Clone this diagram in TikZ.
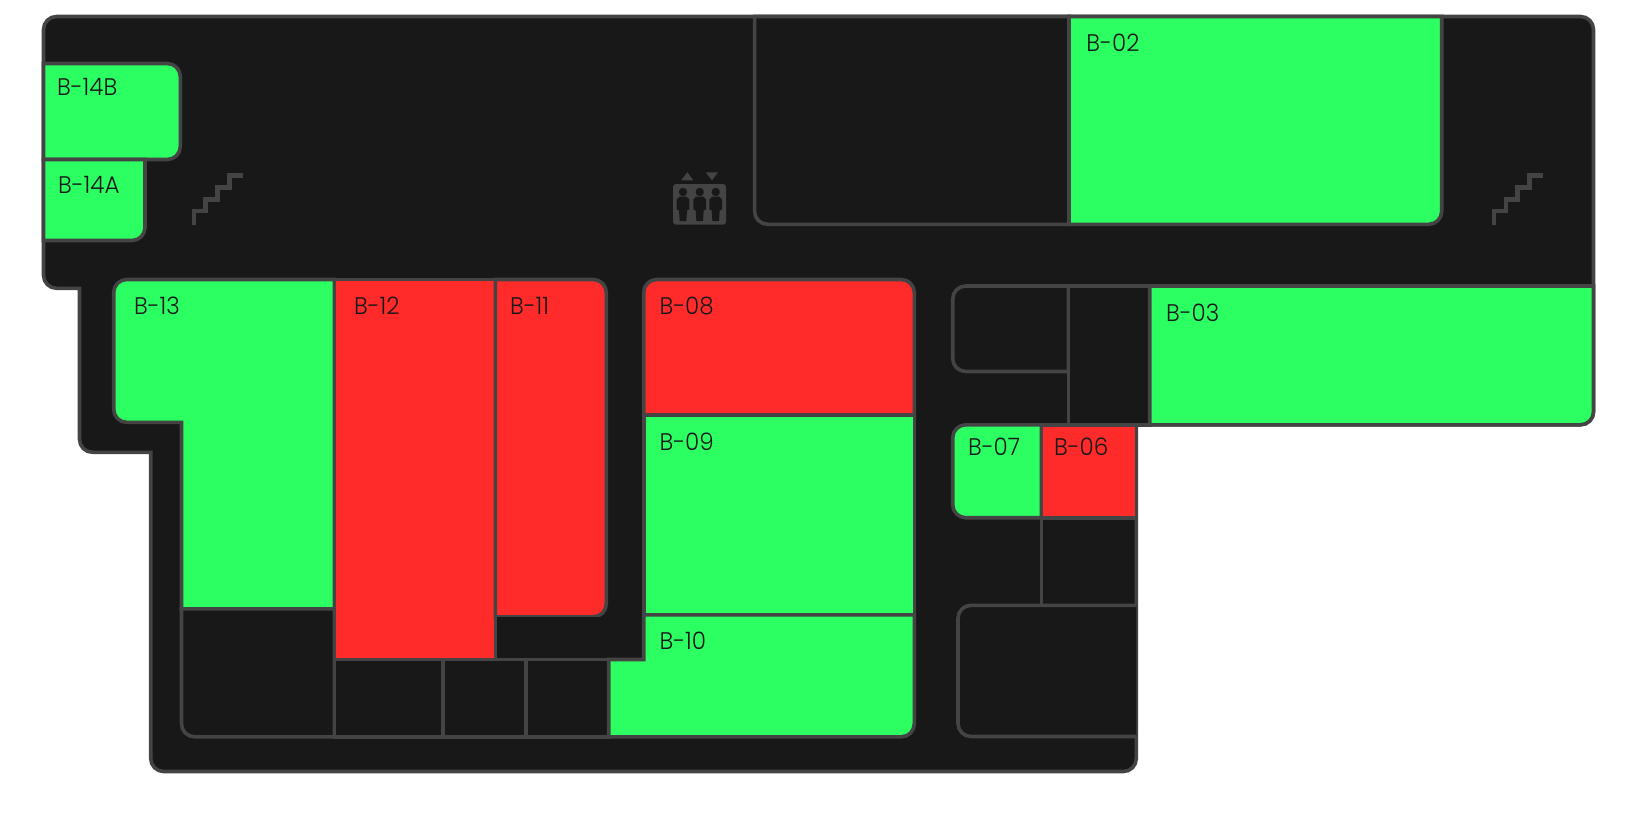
\documentclass[tikz,border=0pt]{standalone}
\usepackage{fontspec}
\newfontfamily\roomfont[FakeStretch=0.96]{Poppins Light}
\definecolor{floorc}{HTML}{181818}
\definecolor{linec}{HTML}{444444}
\definecolor{okc}{HTML}{2BFF62}
\definecolor{badc}{HTML}{FF2B2B}
\tikzset{
  wall/.style={draw=linec,line width=3.6pt,line join=miter},
  floorp/.style={wall,fill=floorc},
  free/.style={wall,fill=okc},
  taken/.style={wall,fill=badc},
  plain/.style={wall,fill=floorc},
  rr/.style={rounded corners=13pt},
  sc/.style={sharp corners},
  stairs/.style={draw=linec,line width=4.5pt,line join=miter},
  lbl/.style={anchor=base west,inner sep=0pt,outer sep=0pt,text=floorc,font=\roomfont\fontsize{24}{24}\selectfont},
}
\begin{document}
\begin{tikzpicture}[x=1pt,y=-1pt]
\useasboundingbox (0,0) rectangle (1641,820);
% floor outline
\path[floorp] (1136.3,424.8) [rr] -- (1136.3,771.5) -- (150.7,771.5) [sc] -- (150.7,452.3) [rr] -- (79.5,452.3) [sc] -- (79.5,288.3) [rr] -- (43.5,288.3) -- (43.5,16.5) -- (1593.5,16.5) -- (1593.5,424.8) [sc] -- cycle;
% rooms top left
\path[free] (43.5,63.5) [rr] -- (180.3,63.5) -- (180.3,159.5) [sc] -- (43.5,159.5) -- cycle;
\path[free] (43.5,159.5) -- (145,159.5) [rr] -- (145,240.5) [sc] -- (43.5,240.5) -- cycle;
% top rooms
\path[plain] (754.6,16.5) [rr] -- (754.6,224.3) [sc] -- (1069,224.3) -- (1069,16.5) -- cycle;
\path[free] (1069,16.5) -- (1441.7,16.5) [rr] -- (1441.7,224.3) [sc] -- (1069,224.3) -- cycle;
% left block
\path[free] (334.3,279.5) [rr] -- (113.7,279.5) -- (113.7,422.3) [sc] -- (181.5,422.3) -- (181.5,608.8) -- (334.3,608.8) -- cycle;
\path[plain] (181.5,608.8) [rr] -- (181.5,736.8) [sc] -- (334.3,736.8) -- (334.3,608.8) -- cycle;
\path[taken] (334.3,279.5) rectangle (495.3,659.5);
\path[taken] (495.3,279.5) [rr] -- (606.3,279.5) -- (606.3,616.8) [sc] -- (495.3,616.8) -- cycle;
\path[plain] (495.3,616.8) -- (495.3,659.5) -- (643.7,659.5) -- (643.7,616.8);
\path[plain] (334.3,659.5) rectangle (442.7,736.8);
\path[plain] (442.7,659.5) rectangle (525.7,736.8);
\path[plain] (525.7,659.5) rectangle (608.7,736.8);
% centre block
\path[taken] (643.7,414.8) [rr] -- (643.7,279.5) -- (914.3,279.5) [sc] -- (914.3,414.8) -- cycle;
\path[free] (643.7,414.8) rectangle (914.3,614.8);
\path[free] (608.7,659.5) -- (643.7,659.5) -- (643.7,614.8) -- (914.3,614.8) [rr] -- (914.3,736.8) [sc] -- (608.7,736.8) -- cycle;
% right block
\path[plain] (1068.3,286) [rr] -- (952.7,286) -- (952.7,371.5) [sc] -- (1068.3,371.5) -- cycle;
\path[plain] (1068.3,286) rectangle (1149.7,424.8);
\path[free] (1149.7,286) -- (1593.5,286) [rr] -- (1593.5,424.8) [sc] -- (1149.7,424.8) -- cycle;
\path[free] (1041.3,424.8) [rr] -- (952.7,424.8) -- (952.7,517.7) [sc] -- (1041.3,517.7) -- cycle;
\path[taken] (1041.3,424.8) rectangle (1136.3,517.7);
\path[wall] (1041.3,517.7) -- (1041.3,605.3);
\path[plain] (1136.3,605.3) [rr] -- (958,605.3) -- (958,736.5) [sc] -- (1136.3,736.5);
% stairs
\path[stairs] (194,225) -- (194,211) -- (205.7,211) -- (205.7,199.5) -- (217.3,199.5) -- (217.3,187.7) -- (229.3,187.7) -- (229.3,175.7) -- (242.7,175.7);
\path[stairs] (1494,225) -- (1494,211) -- (1506,211) -- (1506,199.5) -- (1517.7,199.5) -- (1517.7,187.7) -- (1529.3,187.7) -- (1529.3,175.7) -- (1543,175.7);
% elevator
\fill[linec,rounded corners=3pt] (673,184) rectangle (726,224.7);
\fill[linec] (681.3,180.3) -- (687.3,172.3) -- (693.3,180.3) -- cycle;
\fill[linec] (705.7,172.3) -- (718,172.3) -- (712,180.3) -- cycle;
\foreach \px in {683,699.7,715.7}{
  \fill[floorc] (\px,192) circle[radius=4.2];
  \fill[floorc] (\px-3.5,196.5) -- (\px+3.5,196.5) -- (\px+6.3,199.5) -- (\px+6.3,209.5) -- (\px+4,210.5) -- (\px+3.3,221) -- (\px-3.3,221) -- (\px-4,210.5) -- (\px-6.3,209.5) -- (\px-6.3,199.5) -- cycle;
}
% labels
\node[lbl] (b14b) at (57,95) {B-14B};
\node[lbl] (b14a) at (58,193.5) {B-14A};
\node[lbl] (b13) at (134,314.5) {B-13};
\node[lbl] (b12) at (354,314.5) {B-12};
\node[lbl] (b11) at (510,314.5) {B-11};
\node[lbl] (b08) at (659.5,314.5) {B-08};
\node[lbl] (b09) at (659.5,450.5) {B-09};
\node[lbl] (b10) at (659.5,649) {B-10};
\node[lbl] (b02) at (1086.4,51.5) {B-02};
\node[lbl] (b03) at (1166,321.5) {B-03};
\node[lbl] (b07) at (968,455.5) {B-07};
\node[lbl] (b06) at (1054,455.5) {B-06};
\end{tikzpicture}
\end{document}
